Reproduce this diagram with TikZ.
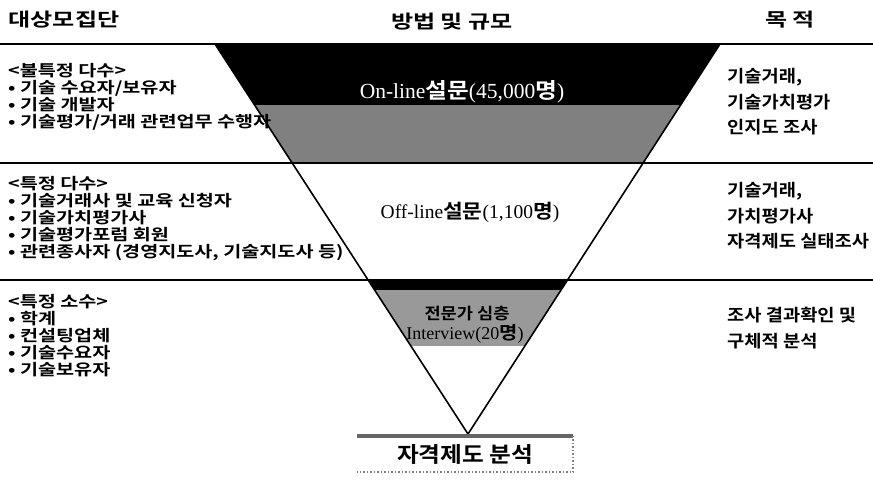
\documentclass[tikz,border=0pt]{standalone}
\usepackage{fontspec}
\setmainfont{Liberation Serif}
\newfontfamily\kr{Noto Sans CJK KR}[BoldFont={Noto Sans CJK KR Bold}, FakeStretch=1.1]
\newfontfamily\krw{Noto Sans CJK KR}[BoldFont={Noto Sans CJK KR Bold}, FakeStretch=1.3]
\newfontfamily\krl{Noto Sans CJK KR}[BoldFont={Noto Sans CJK KR Bold}, FakeStretch=1.25]
\begin{document}
\begin{tikzpicture}[x=1pt,y=-1pt,
  lefttxt/.style={anchor=west, align=left, inner sep=0pt, font=\krl\bfseries\fontsize{15.7}{17}\selectfont},
  righttxt/.style={anchor=west, align=left, inner sep=0pt, font=\kr\bfseries\fontsize{17}{25.5}\selectfont},
  head/.style={inner sep=0pt, font=\krw\bfseries\fontsize{18.5}{20}\selectfont},
  ctr/.style={inner sep=0pt, font=\fontsize{19.5}{20}\selectfont},
  seprule/.style={line width=2pt}
]
\useasboundingbox (0,0) rectangle (873,481);
\coordinate (TL) at (215,44);
\coordinate (TR) at (720,44);
\coordinate (AP) at (468,434);
\begin{scope}
  \clip (TL) -- (TR) -- (AP) -- cycle;
  \fill[black] (200,44) rectangle (740,105);
  \fill[black!50] (200,105) rectangle (740,163);
  \fill[black] (200,280) rectangle (740,290);
  \fill[black!40] (200,290) rectangle (740,346);
\end{scope}
% separators
\coordinate (L0) at (0,44);   \coordinate (R0) at (873,44);
\coordinate (L1) at (0,163);  \coordinate (R1) at (873,163);
\coordinate (L2) at (0,280);  \coordinate (R2) at (873,280);
\draw[seprule] (L0) -- (R0);
\draw[seprule] (L1) -- (R1);
\draw[seprule] (L2) -- (R2);
\draw[line width=1.6pt] (TL) -- (AP) -- (TR);
% headers
\node[head] (h1) at (64,20) {대상모집단};
\node[head] (h2) at (452,22) {방법 및 규모};
\node[head] (h3) at (790,20) {목 적};
% left blocks
\node[lefttxt] (l1) at (8,97) {<불특정 다수>\\• 기술 수요자/보유자\\• 기술 개발자\\• 기술평가/거래 관련업무 수행자};
\node[lefttxt] (l2) at (8,219) {<특정 다수>\\• 기술거래사 및 교육 신청자\\• 기술가치평가사\\• 기술평가포럼 회원\\• 관련종사자 (경영지도사, 기술지도사 등)};
\node[lefttxt] (l3) at (8,336) {<특정 소수>\\• 학계\\• 컨설팅업체\\• 기술수요자\\• 기술보유자};
% right blocks
\node[righttxt] (r1) at (727,102) {기술거래,\\기술가치평가\\인지도 조사};
\node[righttxt] (r2) at (727,216) {기술거래,\\가치평가사\\자격제도 실태조사};
\node[righttxt] (r3) at (727,328) {조사 결과확인 및\\구체적 분석};
% centre labels
\node[ctr, text=white, font=\fontsize{21.5}{22}\selectfont] (c1) at (462,92) {On-line{\kr\bfseries 설문}(45,000{\kr\bfseries 명})};
\node[ctr] (c2) at (470,212) {Off-line{\kr\bfseries 설문}(1,100{\kr\bfseries 명})};
\node[ctr, font=\kr\bfseries\fontsize{16}{18}\selectfont] (c3) at (467,313) {전문가 심층};
\node[ctr, font=\fontsize{18}{20}\selectfont] (c4) at (465,334) {Interview(20{\kr\bfseries 명})};
% bottom box
\node[minimum width=216pt, minimum height=36pt, inner sep=0pt, font=\kr\bfseries\fontsize{21.5}{24}\selectfont] (box) at (465,454) {자격제도 분석};
\draw[black!60, line width=3.5pt] (box.north west) -- (box.north east);
\draw[black!50, dotted, line width=1.5pt] (box.north east) -- (box.south east) -- (box.south west);
\end{tikzpicture}
\end{document}
